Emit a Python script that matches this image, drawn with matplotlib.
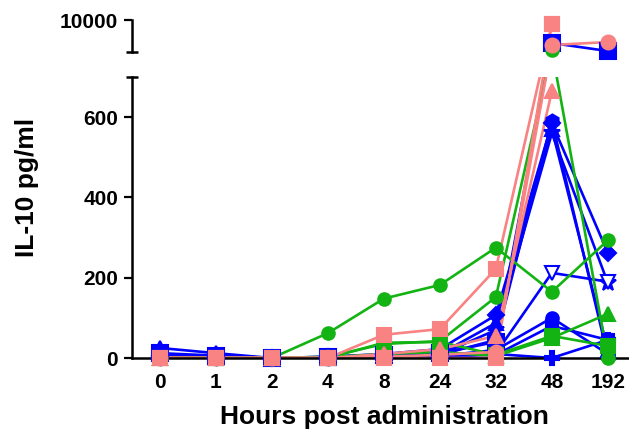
import numpy as np
import matplotlib
matplotlib.use('Agg')
from matplotlib import pyplot as plt

plt.rcParams['font.family'] = ['Liberation Sans', 'DejaVu Sans']
plt.rcParams['font.weight'] = 'bold'

# categories on the x axis
hours = ['0', '1', '2', '4', '8', '24', '32', '48', '192']

# IL-10 values (pg/ml), one list per animal
blue_diamond = [5, 3, 0, 3, 10, 22, 107, 585, 262]
blue_square = [12, 6, 0, 3, 8, 12, 40, 9280, 9030]
blue_triangle = [25, 12, 0, 2, 6, 10, 87, 570, 20]
blue_star = [0, 0, 0, 2, 5, 8, 70, 560, 187]
blue_down = [0, 0, 0, 0, 3, 5, 12, 212, 190]
blue_circle = [0, 0, 0, 0, 3, 5, 20, 100, 10]
blue_cross = [3, 2, 0, 0, 2, 5, 10, 0, 45]
blue_square2 = [0, 0, 0, 0, 2, 3, 8, 80, 45]
blue_hex = [0, 0, 0, 0, 4, 8, 45, 590, 5]

green_circle = [0, 0, 0, 62, 148, 182, 275, 165, 293]
green_open = [0, 0, 0, 3, 35, 42, 152, 9060, 0]
green_triangle = [0, 0, 0, 2, 10, 15, 5, 50, 110]
green_square = [0, 0, 0, 0, 38, 40, 8, 55, 30]

pink_circle = [0, 0, 0, 0, 3, 8, 15, 9220, 9310]
pink_triangle = [0, 0, 0, 0, 10, 22, 55, 665, np.nan]
pink_square = [0, 0, 0, 0, 58, 72, 222, 9870, np.nan]
pink_low = [0, 0, 0, 0, 0, 0, 0, 9870, np.nan]

BLUE = '#0000FF'
GREEN = '#12B312'
PINK = '#F98282'

series = [
    (blue_diamond, BLUE, 'D', 8, True),
    (blue_square, BLUE, 's', 11, True),
    (blue_triangle, BLUE, '^', 10, True),
    (blue_star, BLUE, '*', 12, True),
    (blue_down, BLUE, 'v', 10, False),
    (blue_circle, BLUE, 'o', 9, True),
    (blue_cross, BLUE, 'P', 10, True),
    (blue_square2, BLUE, 's', 9, True),
    (blue_hex, BLUE, 'h', 10, True),
    (green_circle, GREEN, 'o', 9, True),
    (green_open, GREEN, 'o', 9, True),
    (green_triangle, GREEN, '^', 10, True),
    (green_square, GREEN, 's', 10, True),
    (pink_circle, PINK, 'o', 10, True),
    (pink_triangle, PINK, '^', 10, True),
    (pink_square, PINK, 's', 10.5, True),
    (pink_low, PINK, 's', 10.5, True),
]

# broken axis: 0-700 below, 9000-10000 above, straight lines across the gap
LOW_TOP, HIGH_BOT = 700, 9000
GAP = 62.3
K = 0.0797


def fwd(v):
    v = np.asarray(v, dtype=float)
    lo = np.minimum(v, LOW_TOP)
    mid = (np.clip(v, LOW_TOP, HIGH_BOT) - LOW_TOP) * GAP / (HIGH_BOT - LOW_TOP)
    hi = (np.maximum(v, HIGH_BOT) - HIGH_BOT) * K
    return lo + mid + hi


def inv(s):
    s = np.asarray(s, dtype=float)
    return np.where(s <= LOW_TOP, s,
                    np.where(s <= LOW_TOP + GAP,
                             LOW_TOP + (s - LOW_TOP) * (HIGH_BOT - LOW_TOP) / GAP,
                             HIGH_BOT + (s - LOW_TOP - GAP) / K))


fig = plt.figure(figsize=(6.29, 4.38), dpi=100)
ax = fig.add_axes([132 / 629, 80 / 438, 496 / 629, 281 / 438])
ax_top = fig.add_axes([132 / 629, 386 / 438, 496 / 629, 32 / 438])

x = np.arange(len(hours))
for a, lim in ((ax, (0, LOW_TOP)), (ax_top, (HIGH_BOT, 10000))):
    a.set_yscale('function', functions=(fwd, inv))
    for vals, col, mk, ms, filled in series:
        vals = np.array(vals, dtype=float)
        a.plot(x, vals, color=col, lw=1.9, zorder=2)
        inside = (vals >= lim[0]) & (vals <= lim[1])
        a.plot(x[inside], vals[inside], ls='none', marker=mk, ms=ms,
               color=col, mfc=col if filled else 'white', mec=col, mew=1.5,
               clip_on=False, zorder=3)
    a.set_ylim(*lim)
    a.set_xlim(-0.5, 8.36)
    for s in ('top', 'right'):
        a.spines[s].set_visible(False)
    a.spines['left'].set_linewidth(1.8)
    a.tick_params(axis='y', length=6, width=1.6, pad=4, labelsize=15)

ax.spines['bottom'].set_linewidth(1.8)
ax.set_yticks([0, 200, 400, 600])
ax.set_xticks(x)
ax.set_xticklabels(hours)
ax.tick_params(axis='x', length=4, width=1.6, pad=7, labelsize=15)

ax_top.spines['bottom'].set_visible(False)
ax_top.set_xticks([])
ax_top.set_yticks([10000])

# break caps
ax.plot([0], [1], marker='_', ms=9, mew=1.8, color='black',
        transform=ax.transAxes, clip_on=False)
ax_top.plot([0], [0], marker='_', ms=9, mew=1.8, color='black',
            transform=ax_top.transAxes, clip_on=False)

fig.text(27 / 629, 1 - 187 / 438, 'IL-10 pg/ml', rotation=90,
         ha='center', va='center', fontsize=19, fontweight='bold')
fig.text(384 / 629, 1 - 417 / 438, 'Hours post administration',
         ha='center', va='center', fontsize=19, fontweight='bold')

fig.savefig('out.png', dpi=100)
